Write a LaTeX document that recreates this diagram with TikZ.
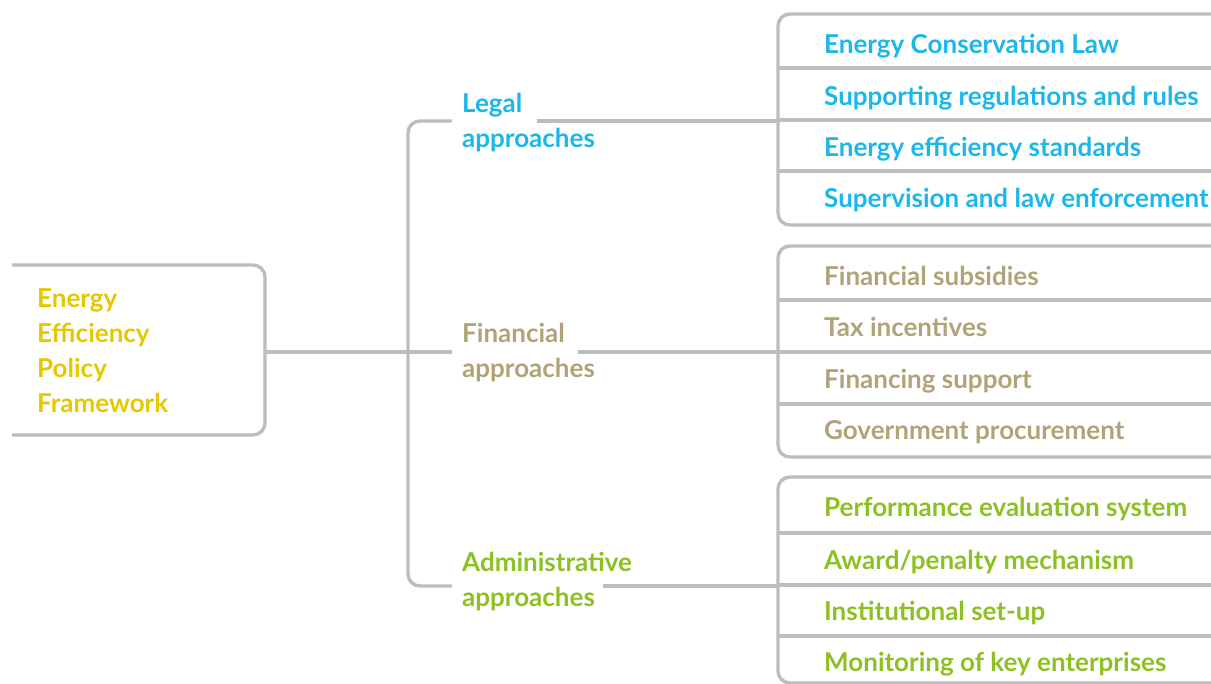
\documentclass[tikz,border=0pt]{standalone}
\usepackage{fontspec}
\setmainfont{Lato}
\definecolor{lgray}{RGB}{189,189,189}
\definecolor{cblue}{RGB}{27,183,234}
\definecolor{ctan}{RGB}{176,163,120}
\definecolor{cgreen}{RGB}{141,193,35}
\definecolor{cyellow}{RGB}{229,200,0}
\tikzset{
  conn/.style={draw=lgray, line width=3.4pt},
  rbox/.style={draw=lgray, line width=3.4pt, rounded corners=12pt},
  itemtext/.style={anchor=base west, inner sep=0pt, font=\bfseries\fontsize{26}{26}\selectfont},
  labtext/.style={anchor=base west, inner sep=0pt, align=left, font=\bfseries\fontsize{26}{35}\selectfont},
}
\begin{document}
\begin{tikzpicture}[x=1pt,y=-1pt]
\clip (0,0) rectangle (1211,684);
% root box
\draw[rbox] (12,265) -- (265,265) -- (265,435) -- (12,435);
\node[labtext, text=cyellow] (root) at (37,413) {Energy\\Efficiency\\Policy\\Framework};
\coordinate (rootE) at (265,352);
% trunk
\coordinate (tTop) at (408,121);
\coordinate (tMid) at (408,352);
\coordinate (tBot) at (408,586);
\coordinate (legW) at (452,121);
\coordinate (legE) at (537,121);
\coordinate (finW) at (452,352);
\coordinate (finE) at (578,352);
\coordinate (admW) at (452,586);
\coordinate (admE) at (603,586);
\coordinate (box1W) at (778,121);
\coordinate (box2W) at (778,352);
\coordinate (box3W) at (778,586);
\draw[rbox] (legW) -- (tTop) -- (tBot) -- (admW);
\draw[conn] (rootE) -- (finW);
\draw[conn] (legE) -- (box1W);
\draw[conn] (finE) -- (box2W);
\draw[conn] (admE) -- (box3W);
% labels
\node[labtext, text=cblue] (legal) at (462,148) {Legal\\approaches};
\node[labtext, text=ctan] (fin) at (462,378) {Financial\\approaches};
\node[labtext, text=cgreen] (adm) at (462,606) {Administrative\\approaches};
% box 1
\draw[rbox] (1240,14) -- (778,14) -- (778,225) -- (1240,225);
\foreach \y in {68,120,171} \draw[conn] (778,\y) -- (1240,\y);
\node[itemtext, text=cblue] (l1) at (824,54) {Energy Conservation Law};
\node[itemtext, text=cblue] (l2) at (824,106) {Supporting regulations and rules};
\node[itemtext, text=cblue] (l3) at (824,157) {Energy efficiency standards};
\node[itemtext, text=cblue] (l4) at (824,208) {Supervision and law enforcement};
% box 2
\draw[rbox] (1240,246) -- (778,246) -- (778,457) -- (1240,457);
\foreach \y in {300,352,404} \draw[conn] (778,\y) -- (1240,\y);
\node[itemtext, text=ctan] (f1) at (824,286) {Financial subsidies};
\node[itemtext, text=ctan] (f2) at (824,337) {Tax incentives};
\node[itemtext, text=ctan] (f3) at (824,389) {Financing support};
\node[itemtext, text=ctan] (f4) at (824,440) {Government procurement};
% box 3
\draw[rbox] (1240,477) -- (778,477) -- (778,683) -- (1240,683);
\foreach \y in {533,585,636} \draw[conn] (778,\y) -- (1240,\y);
\node[itemtext, text=cgreen] (a1) at (824,517) {Performance evaluation system};
\node[itemtext, text=cgreen] (a2) at (824,569) {Award/penalty mechanism};
\node[itemtext, text=cgreen] (a3) at (824,620) {Institutional set-up};
\node[itemtext, text=cgreen] (a4) at (824,671) {Monitoring of key enterprises};
\end{tikzpicture}
\end{document}
